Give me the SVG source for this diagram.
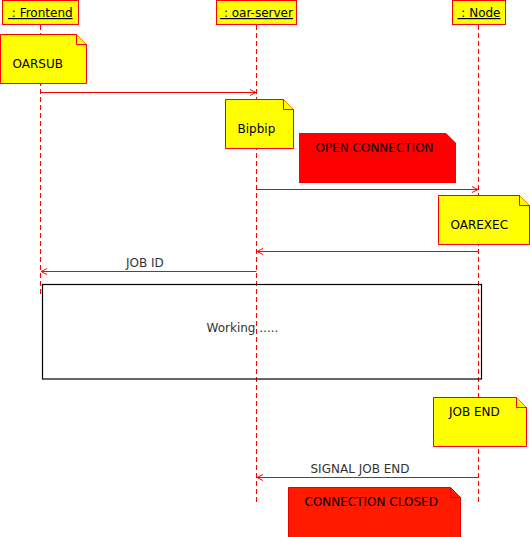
<svg xmlns="http://www.w3.org/2000/svg" width="530" height="537" viewBox="0 0 530 537">
<style>
text{font-family:"DejaVu Sans","Noto Sans",sans-serif;font-size:12px}
.hd{fill:#ffff00;stroke:#ff0000;stroke-width:1}
.ht{fill:#000;text-anchor:middle;text-decoration:underline;white-space:pre}
.life{stroke:#ff0000;stroke-width:1;stroke-dasharray:5 3;fill:none}
.note{fill:#ffff00;stroke:#ff0000;stroke-width:1}
.fold{fill:#ffff00;stroke:#ff0000;stroke-width:1}
.nt{fill:#000}
.msg{stroke:#ff0000;stroke-width:1;fill:none}
.lbl{fill:#333}
</style>
<defs>
<marker id="open" viewBox="0 0 8 8" refX="7" refY="4" markerWidth="8" markerHeight="8" markerUnits="userSpaceOnUse" orient="auto">
<path d="M1,1 L7,4 L1,7" fill="none" stroke="#ff0000" stroke-width="1"/>
</marker>
</defs>
<rect width="530" height="537" fill="#fff"/>

<g id="frontend">
<line class="life" x1="40.5" y1="25" x2="40.5" y2="295"/>
<rect class="hd" x="2.5" y="0.5" width="76" height="24"/>
<text class="ht" x="40.3" y="17" xml:space="preserve"> : Frontend</text>
</g>
<g id="oar-server">
<line class="life" x1="256.5" y1="25" x2="256.5" y2="502"/>
<rect class="hd" x="216.5" y="0.5" width="80" height="24"/>
<text class="ht" x="256.5" y="17" xml:space="preserve"> : oar-server</text>
</g>
<g id="node">
<line class="life" x1="478.5" y1="25" x2="478.5" y2="502"/>
<rect class="hd" x="452.5" y="0.5" width="53" height="24"/>
<text class="ht" x="479" y="17" xml:space="preserve"> : Node</text>
</g>

<g id="connectors">
<line class="msg" x1="40.5" y1="92.5" x2="256" y2="92.5" marker-end="url(#open)"/>
<line class="msg" x1="256.5" y1="189.5" x2="478" y2="189.5" marker-end="url(#open)"/>
<line class="msg" x1="478.5" y1="251.5" x2="257" y2="251.5" marker-end="url(#open)"/>
<line class="msg" x1="256.5" y1="271.5" x2="41" y2="271.5" marker-end="url(#open)"/>
<text class="lbl" x="126" y="267">JOB ID</text>
<line class="msg" x1="478.5" y1="477.5" x2="257" y2="477.5" marker-end="url(#open)"/>
<text class="lbl" x="310.5" y="472.5">SIGNAL JOB END</text>
</g>

<g id="note-oarsub">
<path class="note" d="M0.5,34.5 H76.5 L86.5,44.5 V83.5 H0.5 Z"/>
<path class="fold" d="M76.5,34.5 V44.5 H86.5"/>
<text class="nt" x="12.5" y="67.5">OARSUB</text>
</g>
<g id="note-bipbip">
<path class="note" d="M225.5,99.5 H283.5 L293.5,109.5 V148.5 H225.5 Z"/>
<path class="fold" d="M283.5,99.5 V109.5 H293.5"/>
<text class="nt" x="237.5" y="132.5">Bipbip</text>
</g>
<g id="note-open-connection">
<path d="M299,133 H446 L456,143 V183 H299 Z" fill="#ff0000"/>
<text class="nt" x="315.5" y="151.5">OPEN CONNECTION</text>
</g>
<g id="note-oarexec">
<path class="note" d="M438.5,195.5 H519.5 L529.5,205.5 V244.5 H438.5 Z"/>
<path class="fold" d="M519.5,195.5 V205.5 H529.5"/>
<text class="nt" x="450.5" y="228.5">OAREXEC</text>
</g>
<g id="working">
<rect x="42.5" y="284.5" width="439" height="94.5" fill="none" stroke="#000" stroke-width="1.2"/>
<text class="lbl" x="206.5" y="332">Working .....</text>
</g>
<g id="note-job-end">
<path class="note" d="M433.5,397.5 H516.5 L526.5,407.5 V446.5 H433.5 Z"/>
<path class="fold" d="M516.5,397.5 V407.5 H526.5"/>
<text class="nt" x="449" y="415.5">JOB END</text>
</g>
<g id="note-connection-closed">
<path d="M288.5,487.5 H450.5 L460.5,497.5 V540 H288.5 Z" fill="#ff1a00" stroke="#e60000" stroke-width="1"/>
<path d="M450.5,487.5 V497.5 H460.5" fill="none" stroke="#e60000" stroke-width="1"/>
<text class="nt" x="304.5" y="505.5">CONNECTION CLOSED</text>
</g>
</svg>
